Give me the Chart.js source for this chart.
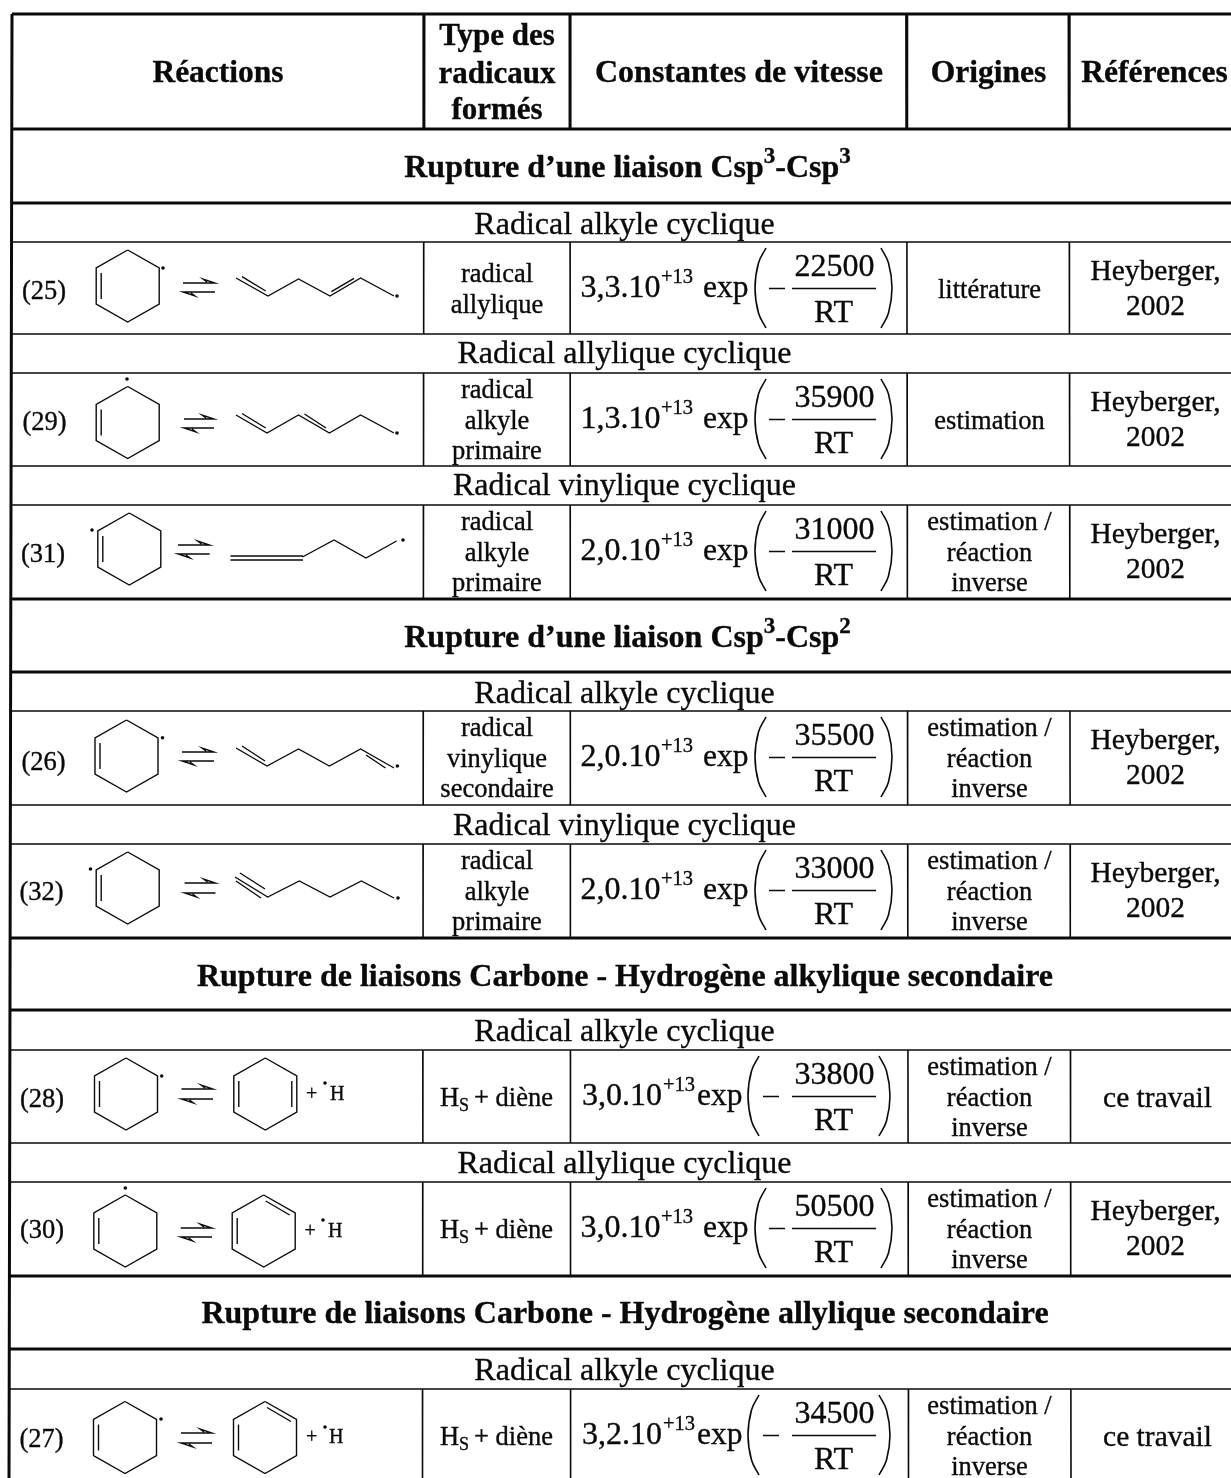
<!DOCTYPE html>
<html lang="fr">
<head>
<meta charset="utf-8">
<title>Réactions</title>
<style>html,body{margin:0;padding:0;background:#fff}canvas{display:block}</style>
<script src="https://cdn.jsdelivr.net/npm/chart.js@4/dist/chart.umd.min.js"></script>
</head>
<body>
<canvas id="c" width="1231" height="1478"></canvas>
<script>
// ---- table content
const reactionIds = ['(25)','(29)','(31)','(26)','(32)','(28)','(30)','(27)'];
const coefficients = ['3,3.10','1,3.10','2,0.10','2,0.10','2,0.10','3,0.10','3,0.10','3,2.10'];
const exponents = ['+13','+13','+13','+13','+13','+13','+13','+13'];
const activationEnergies = ['22500','35900','31000','35500','33000','33800','50500','34500'];
const compactFormula = [false,false,false,false,false,true,false,true];
const radicalTypes = [['radical','allylique'],['radical','alkyle','primaire'],['radical','alkyle','primaire'],
  ['radical','vinylique','secondaire'],['radical','alkyle','primaire'],['HS'],['HS'],['HS']];
const estInv = ['estimation /','réaction','inverse'];
const origins = [['littérature'],['estimation'],estInv,estInv,estInv,estInv,estInv,estInv];
const heyb = ['Heyberger,','2002'];
const references = [heyb,heyb,heyb,heyb,heyb,['ce travail'],heyb,['ce travail']];
const headerLabels = ['Réactions','Constantes de vitesse','Origines','Références'];
const headerType = ['Type des','radicaux','formés'];
const sectionTitles = [['Rupture d’une liaison Csp','3','-Csp','3'],['Rupture d’une liaison Csp','3','-Csp','2'],
  ['Rupture de liaisons Carbone - Hydrogène alkylique secondaire'],['Rupture de liaisons Carbone - Hydrogène allylique secondaire']];
const subHeadings = ['Radical alkyle cyclique','Radical allylique cyclique','Radical vinylique cyclique','Radical alkyle cyclique',
  'Radical vinylique cyclique','Radical alkyle cyclique','Radical allylique cyclique','Radical alkyle cyclique'];

// ---- table geometry (in page-sized data units)
const rowTops = [242,373,505,711,844,1050,1182,1389];
const rowBottoms = [334,466,599,805,938,1143,1276,1478];
const thickRules = [14,129,203,599,672,938,1010,1276,1349];
const thinRules = [242,334,373,466,505,711,805,844,1050,1143,1182,1389];
const colTopX = [424,570,906.6,1069];
const colBottomX = [422.5,570.6,908.5,1071];
const sectionBaselines = [177,647,986,1323];
const subBaselines = [234,363,495,703,835,1041,1173,1380];
const idBaselines = [299,430,562,770,900,1107,1238,1447];
const idCenters = [44,44.5,43,43.5,41.5,42,42,41.5];
const reactantCenters = [[127.7,286],[127.7,422.5],[129.3,549],[126.5,756],[127.7,888],[126,1094],[125.3,1231],[125,1437.5]];
const productCenters = [[265.3,1094],[263.7,1231],[265,1437.5]];
const arrows = [[183,215,283,292],[184,214,419,428],[178,209.6,545,554],[182,214,752,761],[184.6,215.5,883,893],[181.5,213,1089,1099],[180.7,212,1228,1237],[181,212,1433,1443]];
const chains = [
  [[236,278],[268,296],[298.5,279],[330,296],[360.6,278],[394,296]],
  [[236,415],[267,433],[298.5,415],[329.4,433],[360.6,415],[394,433]],
  [[302.5,557],[334,540],[366,558],[396.6,541]],
  [[236,748],[267,766],[298.5,749],[329.4,766],[360.6,749],[394,768]],
  [[235,877],[267.7,897],[299.3,881],[330,897],[361.4,881],[394,898]]
];
const extraBonds = [
  [[242,276.7],[265.7,291]],[[331.4,291.7],[354,278.3]],
  [[242,413.5],[265.7,428]],[[304.5,414],[326,428]],
  [[230.5,556],[303,556]],[[230.5,560],[303,560]],
  [[242,746],[265,761]],[[366,755],[385.5,768]],
  [[240,873],[265,889]],[[236,881],[261,898]]
];
const radicalDots = [[163,268],[397,296],[127,379],[397,433],[92,530],[403,540],[162.5,737.7],[397.4,766],[90.5,869],[398,898],[161.7,1076],[125.3,1188],[161,1419],[325,1083],[323,1220],[325,1427]];
const hydrogenLabels = [[306,330,1100],[304.5,328,1237],[306,329,1443]];

// ---- mark builders
function flatten(paths){
  const out=[];
  paths.forEach(p=>{p.forEach(q=>out.push({x:q[0],y:q[1]}));out.push({x:null,y:null});});
  return out;
}
function ring(c){const [x,y]=c;return [[x,y-36],[x+31.5,y-18],[x+31.5,y+18],[x,y+36],[x-31.5,y+18],[x-31.5,y-18],[x,y-36]];}
function colX(i,y){return colTopX[i]+(colBottomX[i]-colTopX[i])*y/1478;}
function leftX(y){return 12-3*y/1478;}

const thickPaths = thickRules.map(y=>[[leftX(y),y],[1231,y]]);
thickPaths.push([[12,14],[9,1478]]);
colTopX.forEach((_,i)=>thickPaths.push([[colX(i,14),14],[colX(i,129),129]]));
const thinPaths = thinRules.map(y=>[[leftX(y),y],[1231,y]]);
rowTops.forEach((t,r)=>colTopX.forEach((_,i)=>thinPaths.push([[colX(i,t),t],[colX(i,rowBottoms[r]),rowBottoms[r]]])));

const bondPaths = [...chains,...extraBonds];
reactantCenters.forEach(c=>{bondPaths.push(ring(c));bondPaths.push([[c[0]-26.5,c[1]-13],[c[0]-26.5,c[1]+13]]);});
productCenters.forEach((c,i)=>{
  bondPaths.push(ring(c));
  bondPaths.push([[c[0]-26.5,c[1]-13],[c[0]-26.5,c[1]+13]]);
  if(i===0) bondPaths.push([[c[0]+26.5,c[1]-13],[c[0]+26.5,c[1]+13]]);
  else bondPaths.push([[c[0]+2,c[1]-30],[c[0]+26,c[1]-16]]);
});
arrows.forEach(a=>{
  bondPaths.push([[a[0],a[2]],[a[1],a[2]],[a[1]-12,a[2]-4],[a[1]-8,a[2]-1]]);
  bondPaths.push([[a[1],a[3]],[a[0],a[3]],[a[0]+12,a[3]+4],[a[0]+8,a[3]+1]]);
});

const fracPaths = [];
const parenSets = [];
rowTops.forEach((t,r)=>{
  const k=compactFormula[r];
  fracPaths.push([[k?763:769,t+46.5],[k?779:785,t+46.5]]);
  fracPaths.push([[792,t+46.5],[876,t+46.5]]);
  const L=k?748:755, R=k?890:892, w=11, h=80, y=t+6;
  parenSets.push([[L+w,y],[L+3.5,y+15],[L,y+h/2],[L+3.5,y+h-15],[L+w,y+h]]);
  parenSets.push([[R-w,y],[R-3.5,y+15],[R,y+h/2],[R-3.5,y+h-15],[R-w,y+h]]);
});

// ---- text plugin
const INK='#0a0a0a', FACE='"Liberation Serif"';
const tableText = {
  id:'tableText',
  afterDatasetsDraw(chart){
    const g=chart.ctx, sx=chart.scales.x, sy=chart.scales.y;
    function put(t,x,y,size,bold,align){
      g.font=(bold?'bold ':'')+size+'px '+FACE;
      g.textAlign=align||'center';g.textBaseline='alphabetic';g.fillStyle=INK;
      const px=sx.getPixelForValue(x), py=sy.getPixelForValue(y);
      g.fillText(t,px,py);
      g.strokeStyle=INK;g.lineWidth=0.35;g.lineJoin='round';
      g.strokeText(t,px,py);
    }
    function titleRuns(runs,cx,y){
      const sizes=runs.map((_,i)=>i%2?23:32);
      let total=0;
      const ws=runs.map((r,i)=>{g.font='bold '+sizes[i]+'px '+FACE;const w=g.measureText(r).width;total+=w;return w;});
      let x=cx-total/2;
      runs.forEach((r,i)=>{put(r,x,i%2?y-14:y,sizes[i],true,'left');x+=ws[i];});
    }
    g.save();
    put(headerLabels[0],218,82,31.5,true);
    put(headerLabels[1],739,82,32,true);
    put(headerLabels[2],988.5,82,31.5,true);
    put(headerLabels[3],1154.5,82,31.5,true);
    headerType.forEach((t,i)=>put(t,497,[45,83,119][i],31,true));
    sectionTitles.forEach((t,i)=>titleRuns(t,[627.5,627.5,625,625][i],sectionBaselines[i]));
    subHeadings.forEach((t,i)=>put(t,624.5,subBaselines[i],32));
    const threeY=[25,55.5,86], twoY=[40,71];
    rowTops.forEach((t,r)=>{
      put(reactionIds[r],idCenters[r],idBaselines[r],26.5);
      const ty=radicalTypes[r];
      if(ty[0]==='HS'){
        put('H',440,t+56,26.5,false,'left');
        put('S',459,t+61,18,false,'left');
        put('+ diène',553,t+56,26.5,false,'right');
      } else {
        const ys=ty.length===3?threeY:twoY;
        ty.forEach((s,i)=>put(s,497,t+ys[i],26.5));
      }
      const og=origins[r];
      if(og.length===1) put(og[0],989.5,t+56,26.5);
      else og.forEach((s,i)=>put(s,989.5,t+threeY[i],26.5));
      const rf=references[r];
      if(rf.length===1) put(rf[0],1157.5,t+57,29.5);
      else { put(rf[0],1155.5,t+38,29.5); put(rf[1],1155.5,t+73,29.5); }
      const k=compactFormula[r];
      put(coefficients[r],k?582:580.5,t+55,32,false,'left');
      put(exponents[r],k?663:661,t+41,20.5,false,'left');
      put('exp',k?697:703,t+55,31.5,false,'left');
      put(activationEnergies[r],834.5,t+34,32);
      put('RT',833.5,t+80,32);
    });
    hydrogenLabels.forEach(h=>{put('+',h[0],h[2],20,false,'left');put('H',h[1],h[2],20,false,'left');});
    g.restore();
  }
};

const line=(paths,w)=>({data:flatten(paths),showLine:true,pointRadius:0,borderColor:INK,borderWidth:w,tension:0,borderCapStyle:'butt',borderJoinStyle:'miter'});
const datasets=[line(thickPaths,3),line(thinPaths,1.6),line(bondPaths,1.4),line(fracPaths,1.7)];
parenSets.forEach(p=>datasets.push({data:p.map(q=>({x:q[0],y:q[1]})),showLine:true,pointRadius:0,borderColor:INK,borderWidth:1.6,tension:0.4}));
datasets.push({data:radicalDots.map(q=>({x:q[0],y:q[1]})),showLine:false,pointRadius:1.8,pointBorderWidth:0,pointBackgroundColor:INK});

new Chart(document.getElementById('c'),{
  type:'scatter',
  data:{datasets},
  options:{
    responsive:false,animation:false,
    layout:{padding:0,autoPadding:false},
    plugins:{legend:{display:false},tooltip:{enabled:false}},
    events:[],
    scales:{
      x:{type:'linear',min:0,max:1231,display:false},
      y:{type:'linear',min:0,max:1478,reverse:true,display:false}
    }
  },
  plugins:[tableText]
});
</script>
</body>
</html>
